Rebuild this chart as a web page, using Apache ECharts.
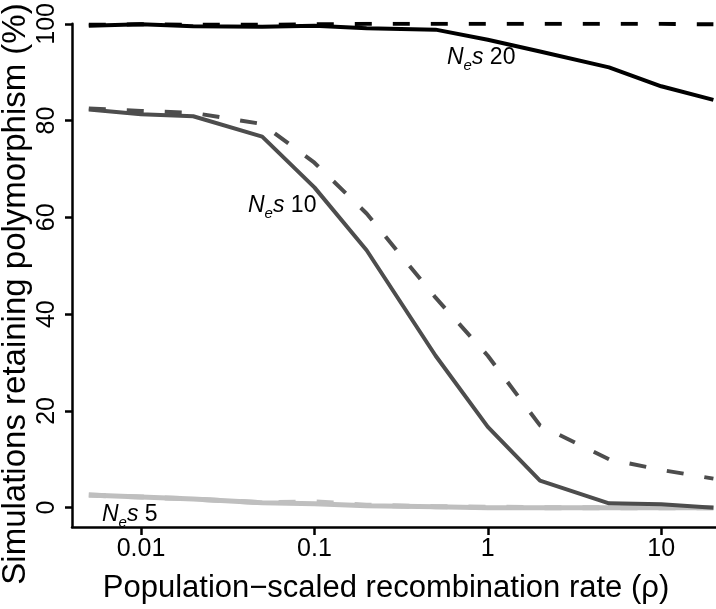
<!DOCTYPE html>
<html>
<head>
<meta charset="utf-8">
<script src="https://cdn.jsdelivr.net/npm/echarts@6/dist/echarts.min.js"></script>
<style>
html,body{margin:0;padding:0;background:#fff;}
#chart{width:716px;height:609px;}
</style>
</head>
<body>
<div id="chart"></div>
<script>
// Data
const rho = [0.005, 0.01, 0.02, 0.05, 0.1, 0.2, 0.5, 1, 2, 5, 10, 20];
const nes20Solid  = [99.6, 99.9, 99.5, 99.4, 99.6, 99.1, 98.8, 96.7, 94.3, 91.0, 87.1, 84.3];
const nes20Dashed = [99.8, 99.9, 99.8, 99.8, 99.9, 100, 100, 100, 100, 100, 100, 99.9];
const nes10Solid  = [82.3, 81.3, 80.9, 76.7, 66.2, 53.2, 31.4, 16.7, 5.6, 0.9, 0.7, 0];
const nes10Dashed = [82.5, 82.0, 81.6, 79.3, 71.3, 60.8, 43.4, 31.4, 17.0, 10.0, 7.8, 6.0];
const nes5Solid   = [2.6, 2.2, 1.8, 1.0, 0.8, 0.4, 0.2, 0, 0, 0, 0, 0];
const nes5Dashed  = [2.6, 2.2, 1.8, 1.0, 1.2, 0.5, 0.2, 0.1, 0, 0, 0, 0];
const xTicks = [0.01, 0.1, 1, 10];
const xTickLabels = ['0.01', '0.1', '1', '10'];
const yTicks = [0, 20, 40, 60, 80, 100];
const xTitle = 'Population\u2212scaled recombination rate (\u03c1)';
const yTitle = 'Simulations retaining polymorphism (%)';

const FONT = '"Liberation Sans", Arial, Helvetica, sans-serif';
const pair = (ys) => rho.map((x, i) => [x, ys[i]]);

function lineSeries(name, ys, color, dashed, width) {
  return {
    name: name, type: 'line', data: pair(ys), symbol: 'none', silent: true,
    lineStyle: { color: color, width: width, type: dashed ? [17, 21] : 'solid', cap: 'butt', join: 'round' }
  };
}

function richLabel(num) {
  return {
    text: '{n|N}{e|e}{n|s}{d| ' + num + '}',
    rich: {
      n: { fontFamily: FONT, fontStyle: 'italic', fontSize: 23, lineHeight: 24, verticalAlign: 'top', fill: '#000' },
      d: { fontFamily: FONT, fontSize: 23, lineHeight: 24, verticalAlign: 'top', fill: '#000' },
      e: { fontFamily: FONT, fontStyle: 'italic', fontSize: 15, lineHeight: 15, padding: [12, 0, 0, 0], verticalAlign: 'top', fill: '#000' }
    },
    align: 'left', verticalAlign: 'top'
  };
}

const chart = echarts.init(document.getElementById('chart'), null, { renderer: 'canvas' });
chart.setOption({
  animation: false,
  backgroundColor: '#fff',
  grid: { left: 72, right: 0, top: 15, bottom: 76, containLabel: false },
  xAxis: {
    type: 'log', min: 0.004, max: 20.7, logBase: 10,
    name: xTitle,
    nameLocation: 'middle', nameGap: 46,
    nameTextStyle: { fontFamily: FONT, fontSize: 31, color: '#000', padding: [0, 16, 0, 0] },
    axisLine: { show: true, onZero: false, lineStyle: { color: '#000', width: 2.5 } },
    axisTick: { show: true, length: 8, lineStyle: { color: '#000', width: 2.5 }, customValues: xTicks },
    axisLabel: { fontFamily: FONT, fontSize: 25, color: '#000', margin: 10, customValues: xTicks,
      formatter: (v) => { const i = xTicks.findIndex(t => Math.abs(t - v) < 1e-6 * Math.max(1, t)); return i >= 0 ? xTickLabels[i] : ''; } },
    splitLine: { show: false }, minorTick: { show: false }
  },
  yAxis: {
    type: 'value', min: -4, max: 100,
    axisLine: { show: true, onZero: false, lineStyle: { color: '#000', width: 2.5 } },
    axisTick: { show: true, length: 7, lineStyle: { color: '#000', width: 2.5 }, customValues: yTicks },
    axisLabel: { fontFamily: FONT, fontSize: 25, color: '#000', rotate: 90, margin: 12, customValues: yTicks },
    splitLine: { show: false }
  },
  series: [
    lineSeries('Nes 5 solid', nes5Solid, '#bfbfbf', false, 5),
    lineSeries('Nes 5 dashed', nes5Dashed, '#bfbfbf', true, 5),
    lineSeries('Nes 10 solid', nes10Solid, '#4d4d4d', false, 4),
    lineSeries('Nes 10 dashed', nes10Dashed, '#4d4d4d', true, 4),
    lineSeries('Nes 20 solid', nes20Solid, '#000000', false, 4),
    lineSeries('Nes 20 dashed', nes20Dashed, '#000000', true, 4)
  ],
  graphic: [
    { type: 'text', x: 16, y: 294, rotation: Math.PI / 2,
      style: { text: yTitle, fontFamily: FONT, fontSize: 33, fill: '#000', align: 'center', verticalAlign: 'middle' } },
    { type: 'text', x: 447, y: 46, style: richLabel('20'), z: 100 },
    { type: 'text', x: 248, y: 194, style: richLabel('10'), z: 100 },
    { type: 'text', x: 102, y: 503, style: richLabel('5'), z: 100 }
  ]
});
</script>
</body>
</html>
